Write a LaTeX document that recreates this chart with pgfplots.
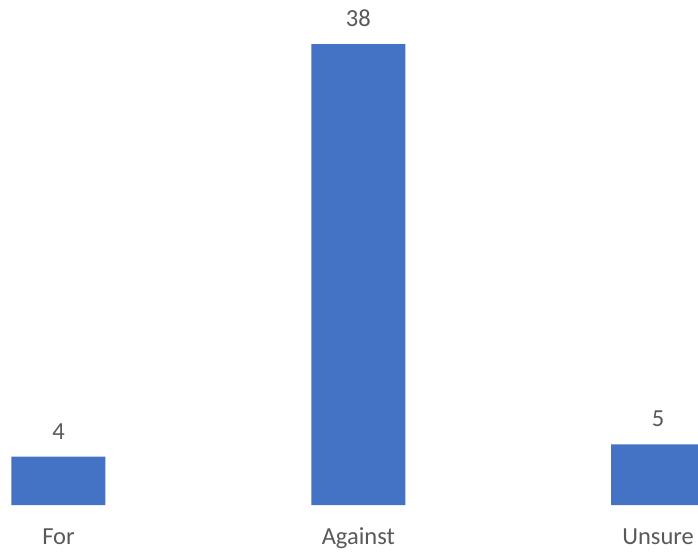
\documentclass[border=0pt]{standalone}
\usepackage{pgfplots}
\pgfplotsset{compat=1.18}
\usepackage{fontspec}
\setmainfont{Carlito}
\definecolor{barblue}{HTML}{4472C4}
\definecolor{txtgray}{HTML}{595959}
\begin{document}
\begin{tikzpicture}
\begin{axis}[
  scale only axis,
  width=698bp, height=552bp,
  xmin=-0.195, xmax=2.133,
  ymin=-3.875, ymax=41.63,
  axis line style={draw=none},
  major tick length=0,
  ytick=\empty,
  xtick={0,1,2},
  xticklabels={For,Against,Unsure},
  xticklabel style={anchor=base, yshift=8bp, text=txtgray},
  /pgf/number format/assume math mode=true,
  ybar, bar width=94bp,
  nodes near coords,
  nodes near coords style={anchor=base, yshift=17.5bp, text=txtgray},
  font=\fontsize{24.5bp}{29bp}\selectfont,
  clip=true,
]
\addplot[fill=barblue, draw=none] coordinates {(0,4) (1,38) (2,5)};
\end{axis}
\end{tikzpicture}
\end{document}
